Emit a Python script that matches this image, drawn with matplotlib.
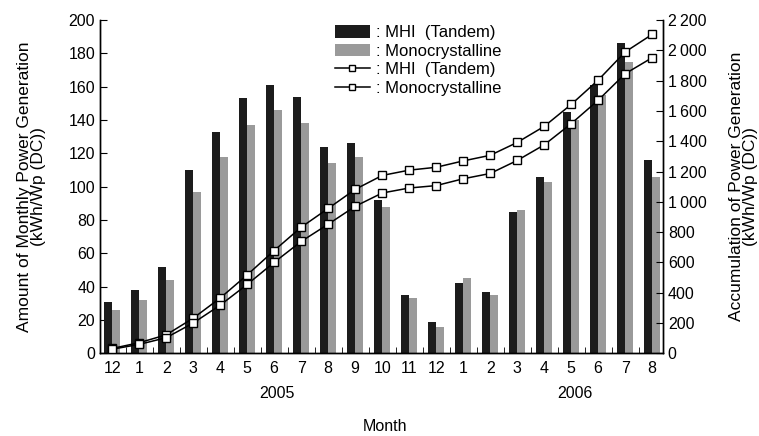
import numpy as np
import matplotlib
matplotlib.use("Agg")
import matplotlib.pyplot as plt
from matplotlib.patches import Patch
from matplotlib.lines import Line2D

plt.rcParams['font.family'] = ['Liberation Sans', 'DejaVu Sans']

months = ['12', '1', '2', '3', '4', '5', '6', '7', '8', '9', '10', '11', '12',
          '1', '2', '3', '4', '5', '6', '7', '8']
mhi_monthly = [31, 38, 52, 110, 133, 153, 161, 154, 124, 126, 92, 35, 19,
               42, 37, 85, 106, 145, 161, 186, 116]
mono_monthly = [26, 32, 44, 97, 118, 137, 146, 138, 114, 118, 88, 33, 16,
                45, 35, 86, 103, 140, 155, 175, 106]
mhi_cum = [31, 69, 121, 231, 364, 517, 678, 832, 956, 1082, 1174, 1209, 1228,
           1270, 1307, 1392, 1498, 1643, 1804, 1990, 2106]
mono_cum = [26, 58, 102, 199, 317, 454, 600, 738, 852, 970, 1058, 1091, 1107,
            1152, 1187, 1273, 1376, 1516, 1671, 1846, 1952]
years = ['2005', '2006']

x = np.arange(len(months))
w = 0.3
fs = 11.5

fig = plt.figure(figsize=(7.59, 4.36), dpi=100)
ax = fig.add_axes([0.1318, 0.19, 0.7417, 0.7638])
ax2 = ax.twinx()

ax.bar(x - w / 2, mhi_monthly, width=w, color='#1c1c1c', zorder=2)
ax.bar(x + w / 2, mono_monthly, width=w, color='#9a9a9a', zorder=2)

for cum in (mhi_cum, mono_cum):
    ax2.plot(x, cum, color='black', lw=1.1, marker='s', ms=5.5,
             mfc='white', mec='black', mew=1.0, zorder=3)

ax.set_xlim(-0.45, 20.4)
ax.set_ylim(0, 200)
ax2.set_ylim(0, 2200)
ax.set_yticks(np.arange(0, 201, 20))
ax2.set_yticks(np.arange(0, 2201, 200))
ax2.set_yticklabels(['0', '200', '400', '600', '800', '1\u2009000', '1\u2009200',
                     '1\u2009400', '1\u2009600', '1\u2009800', '2\u2009000', '2\u2009200'])

ax.set_xticks(x)
ax.set_xticklabels(months)
ax.set_xticks(x[:-1] + 0.5, minor=True)
ax.tick_params(axis='x', which='major', length=0, labelsize=fs, pad=6)
ax.tick_params(axis='x', which='minor', direction='in', length=4)
ax.tick_params(axis='y', direction='in', length=5, labelsize=fs)
ax2.tick_params(axis='y', direction='in', length=5, labelsize=fs)

for a in (ax, ax2):
    a.spines['top'].set_visible(False)
    for s in ('left', 'right', 'bottom'):
        a.spines[s].set_linewidth(1.0)

# lines from the twin axis drawn over the bars
ax2.set_zorder(ax.get_zorder() + 1)
ax2.patch.set_visible(False)

ax.text(6.1, -0.12, years[0], transform=ax.get_xaxis_transform(),
        ha='center', va='center', fontsize=fs)
ax.text(17.15, -0.12, years[1], transform=ax.get_xaxis_transform(),
        ha='center', va='center', fontsize=fs)
ax.text(10.1, -0.22, 'Month', transform=ax.get_xaxis_transform(),
        ha='center', va='center', fontsize=fs)

ax.set_ylabel('Amount of Monthly Power Generation\n(kWh/Wp (DC))',
              fontsize=12.5, labelpad=16, linespacing=0.95)
ax2.set_ylabel('Accumulation of Power Generation\n(kWh/Wp (DC))',
               fontsize=12.5, rotation=90, labelpad=16, linespacing=0.95)

handles = [
    Patch(facecolor='#1c1c1c'),
    Patch(facecolor='#9a9a9a'),
    Line2D([], [], color='black', lw=1.1, marker='s', ms=5, mfc='white', mec='black'),
    Line2D([], [], color='black', lw=1.1, marker='s', ms=5, mfc='white', mec='black'),
]
labels = [': MHI  (Tandem)', ': Monocrystalline', ': MHI  (Tandem)', ': Monocrystalline']
ax2.legend(handles, labels, loc='upper left', bbox_to_anchor=(0.405, 1.005),
           frameon=False, fontsize=12, handlelength=2.1, handleheight=0.8,
           handletextpad=0.4, labelspacing=0.2, borderaxespad=0)

fig.savefig('out.png', dpi=100)
